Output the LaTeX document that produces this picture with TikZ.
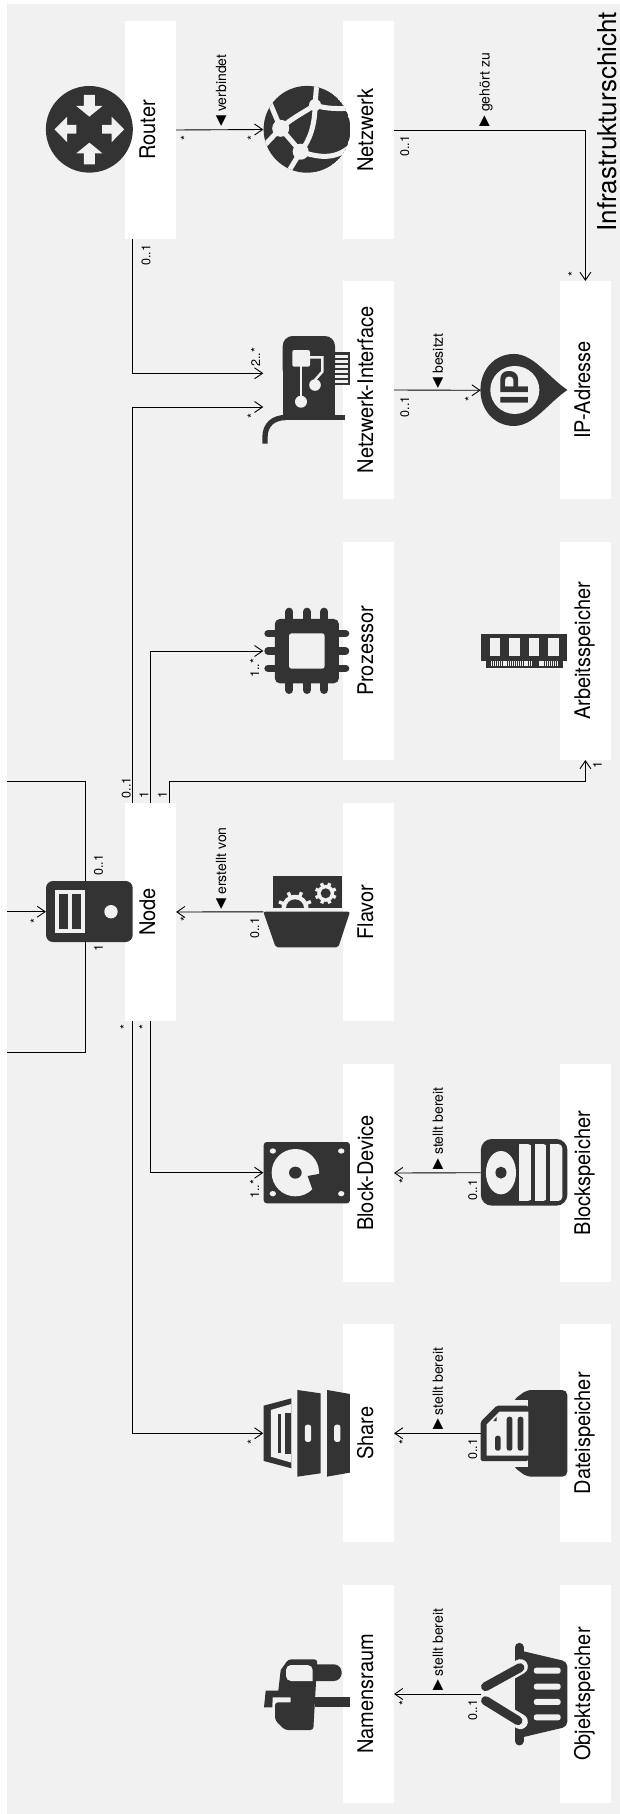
\documentclass[tikz,border=0pt]{standalone}
\usepackage{fontspec}
\setmainfont{TeX Gyre Heros}
\newfontfamily\symfont{DejaVu Sans}
\usepackage{graphicx}
\usetikzlibrary{arrows.meta,calc}
\definecolor{panelbg}{HTML}{F1F1F1}
\definecolor{icondark}{HTML}{333333}
\newcommand{\gearshape}[4]{
  \fill[panelbg] (#1,#2) circle[radius=#3];
  \foreach \a in {0,45,...,315}
    \draw[panelbg,line width=3.4pt] (#1,#2) -- ++({\a+22}:{#3*1.28});
  \fill[icondark] (#1,#2) circle[radius=#4];
}
\newcommand{\assocmark}[1]{\raisebox{.1em}{\symfont #1}}
\newcommand{\classlabel}[1]{\rotatebox{90}{\strut\scalebox{1}[1.08]{#1}}}
\begin{document}
\begin{tikzpicture}[
  x=1pt,y=-1pt,
  classbox/.style={
    fill=white,
    inner sep=0pt,
    minimum width=51pt,
    minimum height=217.7pt,
    font=\fontsize{20}{24}\selectfont
  },
  iconbox/.style={
    inner sep=0pt,
    minimum width=86.6pt,
    minimum height=#1
  },
  assoclabel/.style={
    rotate=90,
    anchor=base west,
    inner sep=0pt,
    font=\fontsize{14}{16}\selectfont
  },
  mult/.style={
    rotate=90,
    anchor=base west,
    inner sep=0pt,
    font=\fontsize{12.5}{14}\selectfont
  },
  link/.style={draw=black,line width=.9pt},
  assoc/.style={link,-{Straight Barb[length=8pt,width=11pt,line width=.9pt]}},
  dark/.style={fill=icondark},
  light/.style={fill=panelbg},
  crop/.style={shift={(0,#1)},x=.3954pt,y=-.3333pt}
]
\useasboundingbox (0,0) rectangle (620,1814);
\fill[white] (0,0) rectangle (620,1814);
\fill[panelbg] (7.1,4.3) rectangle (620,1814);

% white class boxes
\node[classbox] (router) at (150.4,130) {\classlabel{Router}};
\node[classbox] (network) at (368.3,130) {\classlabel{Netzwerk}};
\node[classbox] (nic) at (368.3,390) {\classlabel{Netzwerk-Interface}};
\node[classbox] (ipaddr) at (585.4,390) {\classlabel{IP-Adresse}};
\node[classbox] (cpu) at (368.3,651) {\classlabel{Prozessor}};
\node[classbox] (ram) at (585.4,651) {\classlabel{Arbeitsspeicher}};
\node[classbox] (compute) at (150.4,912) {\classlabel{Node}};
\node[classbox] (flavor) at (368.3,912) {\classlabel{Flavor}};
\node[classbox] (blockdev) at (368.3,1173) {\classlabel{Block-Device}};
\node[classbox] (blockstore) at (585.4,1173) {\classlabel{Blockspeicher}};
\node[classbox] (share) at (368.3,1433.3) {\classlabel{Share}};
\node[classbox] (filestore) at (585.4,1433.3) {\classlabel{Dateispeicher}};
\node[classbox] (namespace) at (368.3,1694) {\classlabel{Namensraum}};
\node[classbox] (objectstore) at (585.4,1694) {\classlabel{Objektspeicher}};

% invisible icon areas, connectors end on these
\node[iconbox=87pt] (networkicon) at (306.8,129.5) {};
\node[iconbox=108pt] (nicicon) at (306.8,390) {};
\node[iconbox=72pt] (ipicon) at (524.1,390.3) {};
\node[iconbox=87pt] (cpuicon) at (306.8,651) {};
\node[iconbox=61pt] (servericon) at (89.4,911.7) {};
\node[iconbox=72pt] (flavoricon) at (306.8,911.8) {};
\node[iconbox=61pt] (blockdevicon) at (306.8,1172.7) {};
\node[iconbox=87pt] (shareicon) at (306.8,1433.3) {};
\node[iconbox=67pt] (blockstoreicon) at (524.1,1172.7) {};
\node[iconbox=87pt] (filestoreicon) at (524.1,1433.3) {};
\node[iconbox=102pt] (objectstoreicon) at (524.1,1694) {};

\coordinate (edgetop) at (7.1,781.7);
\coordinate (edgemid) at (7.1,911.7);
\coordinate (edgelow) at (7.1,1052.3);

\draw[assoc] (router.east) -- (networkicon.west);
\draw[assoc] (network.east) -| (ipaddr.north);
\draw[assoc] ([xshift=-17.9pt]router.south) |- ([yshift=16.7pt]nicicon.west);
\draw[assoc] ([xshift=-17.9pt]compute.north) |- ([yshift=-17pt]nicicon.west);
\draw[assoc] (nic.east) -- (ipicon.west);
\draw[assoc] ([xshift=.2pt]compute.north) |- (cpuicon.west);
\draw[assoc] ([xshift=18.8pt]compute.north) |- (585.4,781.7) -- (ram.south);
\draw[link] (edgetop) -| ([xshift=-3.6pt]servericon.north);
\draw[link] (edgelow) -| ([xshift=-3.6pt]servericon.south);
\draw[assoc] (edgemid) -- (servericon.west);
\draw[assoc] (flavoricon.west) -- (compute.east);
\draw[assoc] ([xshift=-17.9pt]compute.south) |- (shareicon.west);
\draw[assoc] ([xshift=.2pt]compute.south) |- (blockdevicon.west);
\draw[assoc] (blockstoreicon.west) -- (blockdev.east);
\draw[assoc] (filestoreicon.west) -- (share.east);
\draw[assoc] (objectstoreicon.west) -- (namespace.east);

% association labels
\node[assoclabel] (lblconnects) at (226.2,126.7) {\assocmark{◀} verbindet};
\node[assoclabel] (lblbelongs) at (489.5,126.7) {\assocmark{▶} gehört zu};
\node[assoclabel] (lblowns) at (442.9,388.5) {\assocmark{◀} besitzt};
\node[assoclabel] (lblcreated) at (226.2,909.5) {\assocmark{◀} erstellt von};
\node[assoclabel] (lblblock) at (442.9,1169.5) {\assocmark{▶} stellt bereit};
\node[assoclabel] (lblfile) at (442.9,1430) {\assocmark{▶} stellt bereit};
\node[assoclabel] (lblobject) at (442.9,1691) {\assocmark{▶} stellt bereit};
\node[assoclabel,font=\fontsize{26}{30}\selectfont] (layertitle) at (616.8,231.7) {Infrastrukturschicht};

% multiplicities
\foreach \px/\py/\txt [count=\i] in {
  189.9/140.6/*, 256.7/140.6/*, 409.2/156.7/{0..1}, 150.3/265.7/{0..1},
  577.4/276.6/*, 260.2/366.7/{2..*}, 256.7/419/*, 409.2/417.3/{0..1},
  474.2/401.6/*, 130.5/798.3/{0..1}, 148.3/798.3/1, 166.9/798.3/1,
  259/677.7/{1..*}, 601.8/768.3/1, 102.8/876/{0..1}, 102.8/951.7/1,
  39.6/924/*, 189.5/921.6/*, 259/939/{0..1}, 129.4/1029.6/*,
  148/1029.6/*, 259/1199/{1..*}, 408.1/1184/*, 477.2/1200.7/{0..1},
  256.7/1445/*, 408.1/1445/*, 477.2/1460/{0..1}, 408.1/1705.6/*, 477.2/1721/{0..1}}
  \node[mult] (mult\i) at (\px,\py) {\txt};

% router icon
\begin{scope}[crop=0]
  \fill[dark] (226,388) ellipse[x radius=110,y radius=130];
  \fill[light] (212,285) -- (240,285) -- (240,318) -- (259,318) -- (226,350) -- (193,318) -- (212,318) -- cycle;
  \fill[light] (212,493) -- (240,493) -- (240,460) -- (259,460) -- (226,428) -- (193,460) -- (212,460) -- cycle;
  \fill[light] (193,375) -- (193,401) -- (170,401) -- (170,427) -- (138,388) -- (170,350) -- (170,375) -- cycle;
  \fill[light] (258,375) -- (258,401) -- (282,401) -- (282,427) -- (314,388) -- (282,350) -- (282,375) -- cycle;
\end{scope}
% network icon
\begin{scope}
  \clip (307,129.3) circle[radius=43.4];
  \fill[dark] (307,129.3) circle[radius=43.4];
  \foreach \a/\b/\r in {280.7/128.3/8.5,315/105/6,300.7/151.7/8}
    \fill[light] (\a,\b) circle[radius=\r];
  \draw[panelbg,line width=5pt] (270,103) -- (280.7,128.3) -- (263,147);
  \draw[panelbg,line width=5pt] (280.7,128.3) .. controls (292,118) and (303,113) .. (315,105) -- (316.7,84);
  \draw[panelbg,line width=5pt] (280.7,128.3) -- (300.7,151.7) -- (287,174);
  \draw[panelbg,line width=5pt] (315,105) .. controls (325,109) and (340,109) .. (352,108);
  \draw[panelbg,line width=5pt] (315,105) .. controls (315,125) and (310,140) .. (300.7,151.7);
  \draw[panelbg,line width=5pt] (300.7,151.7) .. controls (320,158) and (337,160) .. (353,144);
\end{scope}
% network interface icon
\fill[dark] (335,351.7) rectangle (350,385);
\foreach \s in {354.5,359.5,364.5,369.5,374.5,379.5}
  \fill[light] (335,\s) rectangle (348.3,\s+3.3);
\fill[dark,rounded corners=10pt] (282.7,336) rectangle (335,380);
\fill[dark] (282.7,350) rectangle (335,416);
\fill[dark] (282.7,415) rectangle (345,420);
\draw[icondark,line width=5.3pt] (286,417.5) .. controls (273,417.5) and (265,425) .. (265,437) -- (265,443.5);
\fill[light,rounded corners=2pt] (292.3,350) rectangle (310,366.7);
\draw[panelbg,line width=2.5pt] (310,357.3) -- (322.3,357.3) -- (322.3,371.7) -- (315,380);
\draw[panelbg,line width=2.5pt] (301,366) -- (301,401.7);
\fill[light] (315,385) circle[radius=5.8];
\fill[light] (301,401.7) circle[radius=6];
% ip icon
\begin{scope}[crop=0]
  \fill[dark] (1435,1170) .. controls (1385,1130) and (1350,1062) .. (1300,1062) .. controls (1250,1062) and (1215,1110) .. (1215,1170) .. controls (1215,1230) and (1250,1278) .. (1300,1278) .. controls (1350,1278) and (1385,1210) .. (1435,1170) -- cycle;
  \fill[light] (1302,1170) ellipse[x radius=62,y radius=72];
  \node[rotate=90,inner sep=0pt,text=icondark,font=\fontsize{38}{40}\bfseries\selectfont] (iptext) at (1302,1164) {IP};
\end{scope}
% cpu icon
\begin{scope}[crop=520]
  \foreach \px in {732,776,820}
    \draw[icondark,line width=8pt,line cap=round] (\px,275) -- (\px,510);
  \foreach \py in {341,393,445}
    \draw[icondark,line width=7.5pt,line cap=round] (678,\py) -- (874,\py);
  \fill[dark,rounded corners=5pt] (695,297) rectangle (857,490);
  \fill[light,rounded corners=2.5pt] (731,340) rectangle (821,446);
\end{scope}
% ram icon
\begin{scope}[crop=520]
  \fill[dark] (1216,342) rectangle (1435,422);
  \fill[dark] (1228,420) rectangle (1424,445);
  \foreach \px in {1239,1288,1337,1387}
    \fill[light] (\px,354) rectangle (\px+26,408);
  \draw[panelbg,line width=4.5pt,dash pattern=on 1.2pt off .9pt] (1412,431) -- (1362,431);
  \draw[panelbg,line width=4.5pt,dash pattern=on 1.2pt off .9pt] (1345,431) -- (1240,431);
\end{scope}
% server icon
\fill[dark,rounded corners=7pt] (46,881) rectangle (132.7,942);
\fill[light] (55,890) rectangle (85,933.3);
\fill[dark] (59.3,894) rectangle (67.7,929.3);
\fill[dark] (72,894) rectangle (80.7,929.3);
\fill[light] (111,911.7) circle[radius=6.7];
% flavor icon
\fill[dark] (272.7,876) rectangle (342.3,907.7);
\begin{scope}
  \clip (272.7,876) rectangle (342.3,907.7);
  \gearshape{295}{908.3}{13.5}{9}
  \gearshape{325.7}{893.3}{8.5}{5}
\end{scope}
\fill[dark,rounded corners=2pt] (263.3,911.7) -- (350,911.7) -- (338.3,947.3) -- (275.7,947.3) -- cycle;
% block device icon
\begin{scope}[crop=1040]
  \fill[dark,rounded corners=3pt] (667,306) rectangle (885,490);
  \foreach \a/\b in {690/333,863/333,690/461,863/461}
    \fill[light] (\a,\b) circle[radius=8];
  \fill[light] (747,398) ellipse[x radius=60,y radius=71];
  \fill[dark] (747,398) ellipse[x radius=16,y radius=18];
  \fill[dark] (778,408) -- (815,400) -- (820,440) -- (790,448) -- cycle;
\end{scope}
% block storage icon
\begin{scope}[crop=1040]
  \fill[dark,rounded corners=11pt] (1216,297) rectangle (1435,497);
  \fill[light] (1267,398) ellipse[x radius=38,y radius=65];
  \fill[dark] (1267,398) ellipse[x radius=14,y radius=18];
  \foreach \px in {1313,1352,1390}
    \fill[light,rounded corners=4pt] (\px-8,312) rectangle (\px+32,483);
  \foreach \px in {1313,1352,1390}
    \fill[dark] (\px-8,305) rectangle (\px,490);
\end{scope}
% share icon
\begin{scope}[crop=1040]
  \fill[dark] (667,1097) -- (737,1075) -- (737,1285) -- (667,1263) -- cycle;
  \fill[light] (685,1110) -- (737,1092) -- (737,1268) -- (685,1250) -- cycle;
  \fill[dark] (702,1122) rectangle (711,1238);
  \fill[dark] (720,1118) rectangle (737,1242);
  \fill[dark] (752,1050) -- (811,1060) -- (811,1300) -- (752,1310) -- cycle;
  \fill[dark] (827,1050) -- (885,1062) -- (885,1298) -- (827,1310) -- cycle;
  \fill[light,rounded corners=2.5pt] (771,1154) rectangle (787,1206);
  \fill[light,rounded corners=2.5pt] (845,1154) rectangle (861,1206);
\end{scope}
% file storage icon
\fill[dark,rounded corners=5pt] (513.3,1400) -- (526.7,1390) -- (567.3,1390) -- (567.3,1476.7) -- (526.7,1476.7) -- (513.3,1466.7) -- cycle;
\fill[light] (513.3,1400) rectangle (528.3,1466.7);
\fill[dark,rounded corners=1.5pt] (480.7,1421.7) -- (496.7,1405.7) -- (528.3,1405.7) -- (528.3,1461) -- (480.7,1461) -- cycle;
\fill[light] (486.7,1424.3) -- (499.3,1411.7) -- (528.3,1411.7) -- (528.3,1455.7) -- (486.7,1455.7) -- cycle;
\fill[dark] (493.3,1421) -- (496.7,1416.7) -- (496.7,1421) -- cycle;
\foreach \a/\b in {495/1435.7,506.7/1416.7,517.7/1416.7}
  \fill[dark,rounded corners=2.5pt] (\a,\b) rectangle (\a+5.7,1450.7);
% namespace icon
\fill[dark,rounded corners=8pt] (308,1664.3) rectangle (341.7,1681);
\fill[dark] (315,1696.7) rectangle (350,1707.3);
\fill[dark,rounded corners=3pt] (280.7,1670) -- (288.3,1659.3) -- (317.3,1659.3) -- (313.3,1730) -- (285,1730) -- (275,1720) -- (275,1702.3) [sharp corners] -- (290.7,1702.3) -- (290.7,1697.3) -- (272.7,1697.3) -- (272.3,1707.3) -- (264,1707.3) -- (265.7,1690.7) -- (278.3,1690.7) -- cycle;
\fill[light,rounded corners=5pt] (312.7,1681) -- (286,1681) -- (286,1665) -- (312.7,1665) [sharp corners] -- cycle;
% object storage icon
\begin{scope}[crop=1400]
  \fill[dark,rounded corners=5pt] (1310,750) -- (1435,785) -- (1435,980) -- (1310,1015) -- cycle;
  \draw[icondark,line width=9pt,line cap=round] (1313,742) -- (1313,1023);
  \foreach \py in {812,860,906,952}
    \fill[light,rounded corners=2.5pt] (1350,\py-9) rectangle (1418,\py+9);
  \draw[panelbg,line width=15pt,line cap=round] (1260,838) -- (1316,800);
  \draw[panelbg,line width=15pt,line cap=round] (1260,925) -- (1316,965);
  \draw[icondark,line width=9pt,line cap=round] (1228,860) -- (1315,803);
  \draw[icondark,line width=9pt,line cap=round] (1228,902) -- (1310,962);
\end{scope}
\end{tikzpicture}
\end{document}
